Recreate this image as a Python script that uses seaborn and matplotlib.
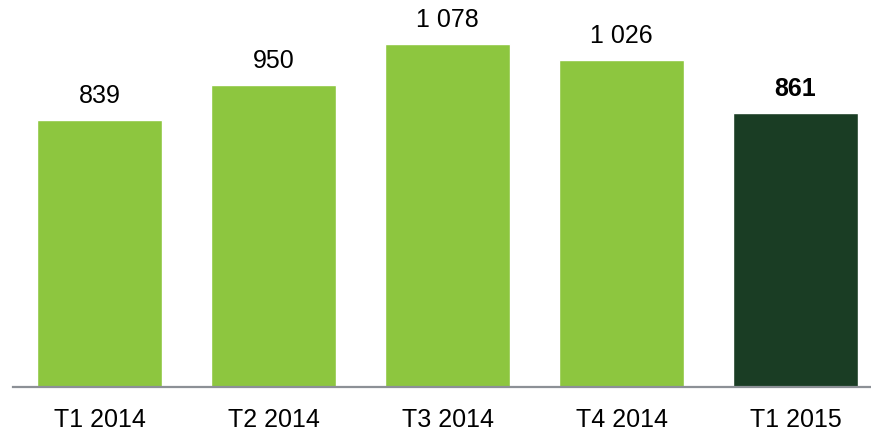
import matplotlib
matplotlib.use("Agg")
import matplotlib.pyplot as plt
import seaborn as sns
import pandas as pd

quarters = ["T1 2014", "T2 2014", "T3 2014", "T4 2014", "T1 2015"]
values = [839, 950, 1078, 1026, 861]
value_labels = ["839", "950", "1 078", "1 026", "861"]
bar_colors = ["#8DC63F", "#8DC63F", "#8DC63F", "#8DC63F", "#1A3D24"]

sns.set_style("white")
plt.rcParams["font.family"] = ["Liberation Sans", "DejaVu Sans"]

df = pd.DataFrame({"quarter": quarters, "value": values})

fig = plt.figure(figsize=(8.71, 4.34), dpi=100)
ax = fig.add_axes([12.5 / 871, 47 / 434, 870 / 871, 382 / 434])

sns.barplot(data=df, x="quarter", y="value", hue="quarter", palette=bar_colors,
            legend=False, width=0.72, saturation=1, ax=ax)

ax.set_ylim(0, 1200)
ax.set_xlim(-0.5, 4.5)

for i, (v, lab) in enumerate(zip(values, value_labels)):
    ax.annotate(lab, (i, v), xytext=(0, 12), textcoords="offset pixels",
                ha="center", va="bottom", fontsize=18, color="black",
                fontweight="bold" if i == len(values) - 1 else "normal")

for s in ["top", "right", "left"]:
    ax.spines[s].set_visible(False)
ax.spines["bottom"].set_color("#8C9096")
ax.spines["bottom"].set_linewidth(1.6)
ax.set_yticks([])
ax.set_xlabel("")
ax.set_ylabel("")
ax.tick_params(axis="x", length=0, labelsize=18, pad=15, labelcolor="black")

fig.savefig("out.png", dpi=100)
